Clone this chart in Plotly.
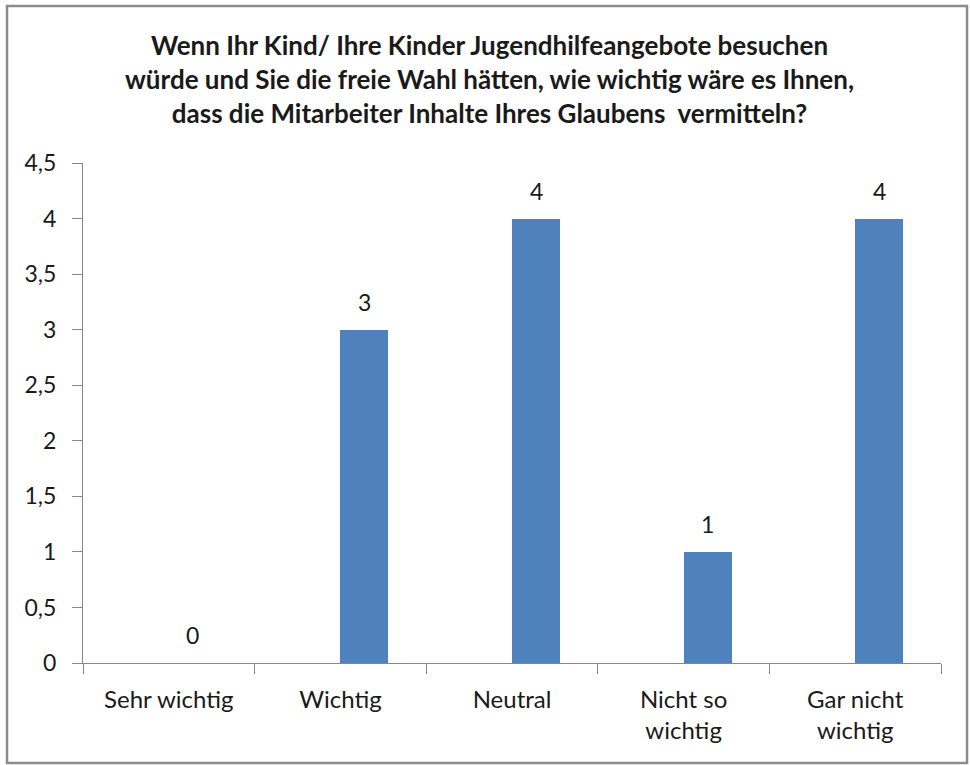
import plotly.graph_objects as go

categories = ["Sehr wichtig", "Wichtig", "Neutral", "Nicht so wichtig", "Gar nicht wichtig"]
tick_labels = ["Sehr wichtig", "Wichtig", "Neutral", "Nicht so<br>wichtig", "Gar nicht<br>wichtig"]
values = [0, 3, 4, 1, 4]
y_ticks = [0, 0.5, 1, 1.5, 2, 2.5, 3, 3.5, 4, 4.5]
y_tick_labels = ["0", "0,5", "1", "1,5", "2", "2,5", "3", "3,5", "4", "4,5"]
title_text = ("<b>Wenn Ihr Kind/ Ihre Kinder Jugendhilfeangebote besuchen<br>"
              "würde und Sie die freie Wahl hätten, wie wichtig wäre es Ihnen,<br>"
              "dass die Mitarbeiter Inhalte Ihres Glaubens  vermitteln?</b>")

FONT = "Lato"
TXT = "#1a1a1a"
AXIS = "#868686"
BAR = "#4F81BD"
BAR_W = 0.28

W, H = 970, 765
ML, MR, MT, MB = 83, 29, 163, 102
PW, PH = W - ML - MR, H - MT - MB

fig = go.Figure()
fig.add_trace(go.Bar(
    x=tick_labels, y=values, width=BAR_W, offset=0,
    marker=dict(color=BAR, line=dict(width=0)),
    hoverinfo="skip", showlegend=False,
))

for i, v in enumerate(values):
    fig.add_annotation(x=i + BAR_W / 2, y=v, xref="x", yref="y",
                       text=str(v), showarrow=False, yanchor="middle", yshift=28,
                       font=dict(family=FONT, size=23, color=TXT))

def px_x(p):
    return (p - ML) / PW

def px_y(p):
    return (H - MB - p) / PH

fig.add_shape(type="rect", xref="paper", yref="paper",
              x0=px_x(7), x1=px_x(967), y0=px_y(763), y1=px_y(6),
              line=dict(color="#8c8c8c", width=2.5), layer="below")

# chart title
fig.add_annotation(xref="paper", yref="paper", x=px_x(489), y=px_y(27),
                   xanchor="center", yanchor="top", align="center",
                   text=title_text, showarrow=False,
                   font=dict(family=FONT, size=26, color=TXT))

fig.update_layout(
    width=W, height=H,
    margin=dict(l=ML, r=MR, t=MT, b=MB),
    paper_bgcolor="white", plot_bgcolor="white",
    font=dict(family=FONT, size=24, color=TXT),
    bargap=0,
)
fig.update_xaxes(type="category", range=[-0.5, 4.5], showline=True, linecolor=AXIS,
                 linewidth=1, ticks="outside", tickson="boundaries", ticklen=10,
                 tickcolor=AXIS, showgrid=False, zeroline=False, ticklabelstandoff=15,
                 tickfont=dict(family=FONT, size=24, color=TXT))
fig.update_yaxes(range=[0, 4.5], tickmode="array", tickvals=y_ticks, ticktext=y_tick_labels,
                 showline=True, linecolor=AXIS, linewidth=1, ticks="outside", ticklen=10,
                 tickcolor=AXIS, showgrid=False, zeroline=False, ticklabelstandoff=11,
                 tickfont=dict(family=FONT, size=23, color=TXT))

fig.write_html("out.html", config={"displayModeBar": False},
               post_script="document.body.style.margin='0px';")
